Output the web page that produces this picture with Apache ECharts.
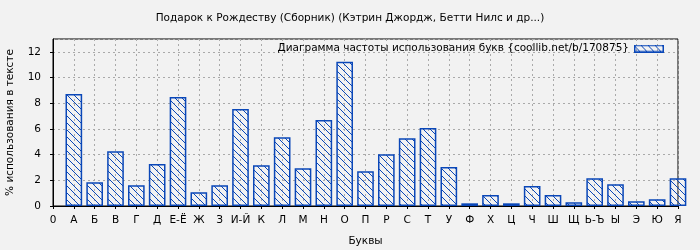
<!DOCTYPE html>
<html>
<head>
<meta charset="utf-8">
<script src="https://cdn.jsdelivr.net/npm/echarts@6/dist/echarts.min.js"></script>
<style>html,body{margin:0;padding:0;background:#f2f2f2;}#c{width:700px;height:250px;}</style>
</head>
<body>
<div id="c"></div>
<script>
const titleText = 'Подарок к Рождеству (Сборник) (Кэтрин Джордж, Бетти Нилс и др...)';
const seriesName = 'Диаграмма частоты использования букв {coollib.net/b/170875}';
const categories = ['0','А','Б','В','Г','Д','Е-Ё','Ж','З','И-Й','К','Л','М','Н','О','П','Р','С','Т','У','Ф','Х','Ц','Ч','Ш','Щ','Ь-Ъ','Ы','Э','Ю','Я'];
const values = [0, 8.72, 1.85, 4.27, 1.62, 3.26, 8.49, 1.07, 1.62, 7.55, 3.18, 5.36, 2.94, 6.69, 11.22, 2.71, 4.03, 5.28, 6.07, 3.04, 0.21, 0.86, 0.21, 1.56, 0.86, 0.29, 2.16, 1.69, 0.37, 0.52, 2.16];
const yTicks = [0, 2, 4, 6, 8, 10, 12];

const blue = '#0a47b8';
const p = 7;
const cv = document.createElement('canvas');
cv.width = p; cv.height = p;
const cx = cv.getContext('2d');
cx.fillStyle = blue;
for (let i = 0; i < p; i++) cx.fillRect(i, i, 1, 1);

// legend icon: hatched rectangle
const lc = document.createElement('canvas');
lc.width = 30; lc.height = 8;
const lx = lc.getContext('2d');
lx.fillStyle = blue;
for (let x = -8; x < 30; x += p) for (let i = 0; i < 8; i++) if (x + i >= 0 && x + i < 30) lx.fillRect(x + i, i, 1, 1);
lx.strokeStyle = blue; lx.lineWidth = 1.5;
lx.strokeRect(0.75, 0.75, 28.5, 6.5);

const font = 'DejaVu Sans';
const fs = 10.5;
const chart = echarts.init(document.getElementById('c'), null, {renderer: 'canvas'});
chart.setOption({
  backgroundColor: '#f2f2f2',
  animation: false,
  title: {
    text: titleText, left: 'center', top: 8,
    textStyle: {fontFamily: font, fontSize: fs, fontWeight: 'normal', color: '#000'}
  },
  legend: {
    right: 36, top: 43, padding: 0, align: 'right',
    itemWidth: 30, itemHeight: 8, itemGap: 10,
    icon: 'image://' + lc.toDataURL(),
    textStyle: {fontFamily: font, fontSize: fs, color: '#000', padding: [0, 0, 0, 0]},
    data: [seriesName]
  },
  grid: {
    left: 53, right: 22, top: 39, bottom: 44, outerBoundsMode: 'none', containLabel: false,
    show: true, borderColor: '#000', borderWidth: 1, backgroundColor: 'transparent'
  },
  xAxis: {
    type: 'category', data: categories, boundaryGap: false,
    name: 'Буквы', nameLocation: 'middle', nameGap: 30,
    nameTextStyle: {fontFamily: font, fontSize: fs, color: '#000'},
    axisLine: {lineStyle: {color: '#000'}},
    axisTick: {show: true, interval: 0, length: 3, lineStyle: {color: '#000'}},
    axisLabel: {interval: 0, margin: 9, fontFamily: font, fontSize: fs, color: '#000'},
    splitLine: {show: true, interval: 0, lineStyle: {color: '#aaa', type: [2, 3]}}
  },
  yAxis: {
    type: 'value', min: 0, max: 13, interval: 2,
    name: '% использования в тексте', nameLocation: 'middle', nameGap: 37,
    nameTextStyle: {fontFamily: font, fontSize: fs, color: '#000'},
    axisLine: {show: true, lineStyle: {color: '#000'}},
    axisTick: {show: true, length: 3, lineStyle: {color: '#000'}},
    axisLabel: {showMaxLabel: false, margin: 12, fontFamily: font, fontSize: fs, color: '#000',
      formatter: v => yTicks.includes(v) ? String(v) : ''},
    splitLine: {show: true, lineStyle: {color: '#aaa', type: [2, 3]}}
  },
  series: [{
    name: seriesName, type: 'bar', data: values.map((v, i) => i === 0 ? '-' : v),
    barWidth: '80%', clip: true,
    itemStyle: {color: {image: cv, repeat: 'repeat'}, borderColor: blue, borderWidth: 1.5}
  }]
});
</script>
</body>
</html>
